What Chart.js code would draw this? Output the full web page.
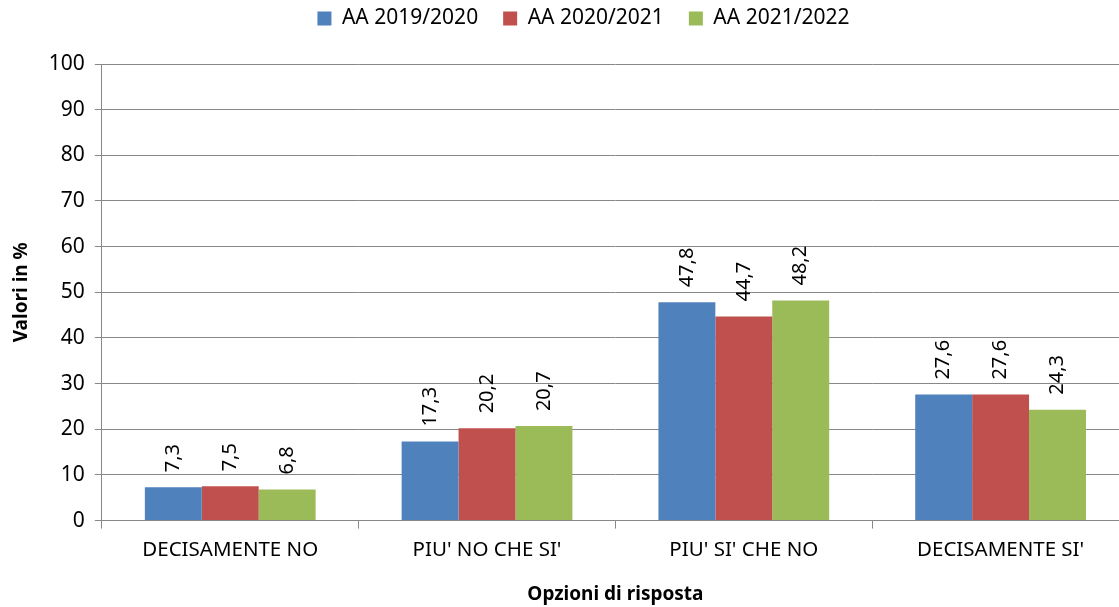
<!DOCTYPE html>
<html>
<head>
<meta charset="utf-8">
<script src="https://cdn.jsdelivr.net/npm/chart.js@4/dist/chart.umd.min.js"></script>
<style>
  html, body { margin: 0; padding: 0; background: #fff; overflow: hidden; }
  #wrap { width: 1168px; height: 607px; }
</style>
</head>
<body>
<div id="wrap"><canvas id="chart"></canvas></div>
<script>
const categories = ["DECISAMENTE NO", "PIU' NO CHE SI'", "PIU' SI' CHE NO", "DECISAMENTE SI'"];
const seriesNames = ['AA 2019/2020', 'AA 2020/2021', 'AA 2021/2022'];
const aa1920 = [7.3, 17.3, 47.8, 27.6];
const aa2021 = [7.5, 20.2, 44.7, 27.6];
const aa2122 = [6.8, 20.7, 48.2, 24.3];
const colors = ['#4F81BD', '#C0504D', '#9BBB59'];

const FONT = "'Noto Sans', 'Open Sans', sans-serif";

// ── value labels, rotated above each bar ──────────────────────────────────
const barLabels = {
  id: 'barLabels',
  afterDatasetsDraw(chart) {
    const ctx = chart.ctx;
    ctx.save();
    ctx.font = '20px ' + FONT;
    ctx.fillStyle = '#000';
    ctx.textAlign = 'left';
    ctx.textBaseline = 'middle';
    chart.data.datasets.forEach((ds, i) => {
      chart.getDatasetMeta(i).data.forEach((bar, j) => {
        ctx.save();
        ctx.translate(bar.x, bar.y - 15);
        ctx.rotate(-Math.PI / 2);
        ctx.fillText(ds.data[j].toFixed(1).replace('.', ','), 0, 0);
        ctx.restore();
      });
    });
    ctx.restore();
  }
};

// legend: fixed room below it, nudged right
const legendSpace = {
  id: 'legendSpace',
  beforeInit(chart) {
    const fit = chart.legend.fit;
    chart.legend.fit = function () { fit.call(this); this.height = 81; };
  },
  afterLayout(chart) {
    chart.legend.left += 16;
    chart.legend.right += 16;
  }
};

new Chart(document.getElementById('chart'), {
  type: 'bar',
  data: {
    labels: categories,
    datasets: [aa1920, aa2021, aa2122].map((d, i) => ({
      label: seriesNames[i],
      data: d,
      backgroundColor: colors[i],
      categoryPercentage: 0.665,
      barPercentage: 1,
    })),
  },
  options: {
    responsive: true,
    maintainAspectRatio: false,
    animation: false,
    layout: { padding: { left: 6, right: 39, top: -17, bottom: 1 } },
    plugins: {
      legend: {
        labels: {
          color: '#000',
          boxWidth: 14, boxHeight: 14,
          padding: 25,
          font: { family: FONT, size: 21 },
        },
      },
      tooltip: { enabled: false },
    },
    scales: {
      x: {
        grid: { drawOnChartArea: false, offset: true, tickLength: 8, color: '#888' },
        border: { color: '#888' },
        ticks: { color: '#000', font: { family: FONT, size: 20.5 }, padding: 9 },
        title: {
          display: true, text: 'Opzioni di risposta', color: '#000',
          font: { family: FONT, size: 19, weight: 'bold' }, padding: { top: 12, bottom: 0 },
        },
      },
      y: {
        min: 0, max: 100,
        ticks: { stepSize: 10, color: '#000', font: { family: FONT, size: 21 }, padding: 10 },
        grid: { color: '#888', tickLength: 7 },
        border: { color: '#888' },
        title: {
          display: true, text: 'Valori in %', color: '#000',
          font: { family: FONT, size: 19, weight: 'bold' }, padding: { bottom: 6 },
        },
      },
    },
  },
  plugins: [barLabels, legendSpace],
});
</script>
</body>
</html>
